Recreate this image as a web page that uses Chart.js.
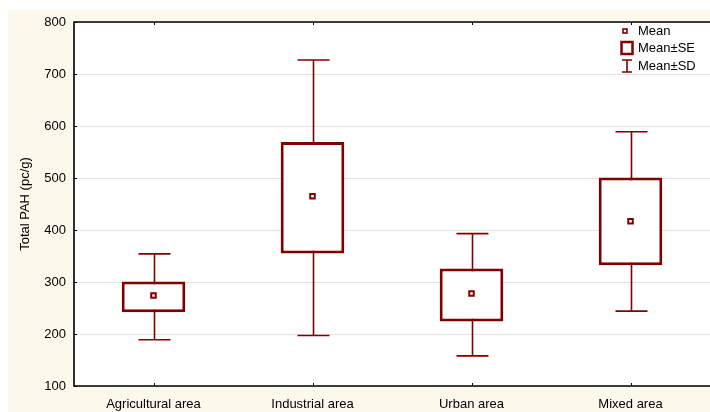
<!DOCTYPE html>
<html>
<head>
<meta charset="utf-8">
<script src="https://cdn.jsdelivr.net/npm/chart.js@4/dist/chart.umd.min.js"></script>
<style>
  html, body { margin: 0; padding: 0; background: #fff; }
  #wrap { position: absolute; left: 8px; top: 10px; width: 702px; height: 402px; background: #fdf8ec; overflow: hidden; }
  canvas { display: block; }
</style>
</head>
<body>
<div id="wrap"><canvas id="boxChart" width="708" height="402"></canvas></div>
<script>
const categories = ['Agricultural area', 'Industrial area', 'Urban area', 'Mixed area'];
const meanValues = [274, 465, 278, 417];
const seLow = [242, 355, 224, 332];
const seHigh = [301, 569, 326, 501];
const sdLow = [189, 197, 158, 244];
const sdHigh = [354, 727, 393, 589];

const dark = '#800000';
const font = 'Arial, "Liberation Sans", sans-serif';

// white plot area, whiskers behind boxes, frame + inward ticks, legend
const plotDecor = {
  id: 'plotDecor',
  beforeDatasetsDraw(chart) {
    const { ctx, scales: { x, y } } = chart;
    ctx.save();
    ctx.strokeStyle = dark;
    ctx.lineWidth = 1.6;
    categories.forEach((c, i) => {
      const px = Math.round(x.getPixelForValue(i)) + 0.5;
      const top = y.getPixelForValue(sdHigh[i]);
      const bot = y.getPixelForValue(sdLow[i]);
      ctx.beginPath();
      ctx.moveTo(px, top); ctx.lineTo(px, bot);
      ctx.moveTo(px - 16, top); ctx.lineTo(px + 16, top);
      ctx.moveTo(px - 16, bot); ctx.lineTo(px + 16, bot);
      ctx.stroke();
    });
    ctx.restore();
  },
  beforeDraw(chart) {
    const { ctx, chartArea: a } = chart;
    ctx.save();
    ctx.fillStyle = '#fff';
    ctx.fillRect(a.left, a.top, chart.width - a.left, a.bottom - a.top);
    ctx.restore();
  },
  afterDatasetsDraw(chart) {
    const { ctx, chartArea: a, scales: { x, y } } = chart;
    const right = chart.width;
    ctx.save();
    ctx.strokeStyle = '#000';
    ctx.lineWidth = 1.6;
    ctx.beginPath();
    ctx.moveTo(right, a.top); ctx.lineTo(a.left, a.top);
    ctx.lineTo(a.left, a.bottom); ctx.lineTo(right, a.bottom);
    ctx.stroke();
    ctx.lineWidth = 1;
    ctx.beginPath();
    for (let v = 100; v <= 800; v += 100) {
      const py = Math.round(y.getPixelForValue(v)) + 0.5;
      ctx.moveTo(a.left, py); ctx.lineTo(a.left + 3, py);
    }
    categories.forEach((c, i) => {
      const px = Math.round(x.getPixelForValue(i)) + 0.5;
      ctx.moveTo(px, a.top); ctx.lineTo(px, a.top + 3);
      ctx.moveTo(px, a.bottom); ctx.lineTo(px, a.bottom - 3);
    });
    ctx.stroke();

    // legend
    ctx.strokeStyle = dark;
    ctx.fillStyle = '#fff';
    ctx.lineWidth = 1.6;
    ctx.fillRect(615, 19, 4, 4);
    ctx.strokeRect(615, 19, 4, 4);
    ctx.lineWidth = 2.5;
    ctx.strokeRect(613.5, 32, 11, 12);
    ctx.lineWidth = 1.6;
    ctx.beginPath();
    ctx.moveTo(619, 50); ctx.lineTo(619, 62);
    ctx.moveTo(614, 50); ctx.lineTo(624, 50);
    ctx.moveTo(614, 62); ctx.lineTo(624, 62);
    ctx.stroke();
    ctx.fillStyle = '#000';
    ctx.font = '13px ' + font;
    ctx.textBaseline = 'middle';
    ctx.fillText('Mean', 630, 21);
    ctx.fillText('Mean±SE', 630, 38);
    ctx.fillText('Mean±SD', 630, 56);
    ctx.restore();
  }
};

new Chart(document.getElementById('boxChart').getContext('2d'), {
  type: 'bar',
  data: {
    labels: categories,
    datasets: [
      {
        label: 'Mean',
        type: 'line',
        data: meanValues,
        showLine: false,
        pointStyle: 'rect',
        pointRadius: 3.2,
        pointBackgroundColor: '#fff',
        pointBorderColor: dark,
        pointBorderWidth: 2,
        order: 0
      },
      {
        label: 'Mean±SE',
        data: seLow.map((lo, i) => [lo, seHigh[i]]),
        backgroundColor: '#fff',
        borderColor: dark,
        borderWidth: 3,
        borderSkipped: false,
        barPercentage: 0.4,
        categoryPercentage: 1,
        order: 1
      }
    ]
  },
  options: {
    responsive: false,
    animation: false,
    layout: { padding: { top: 12, right: 0, left: 0, bottom: 0 } },
    plugins: { legend: { display: false }, tooltip: { enabled: false } },
    scales: {
      x: {
        grid: { display: false },
        border: { display: false },
        ticks: { color: '#000', font: { family: font, size: 13 }, padding: 3 },
        afterFit(scale) {
          scale.height = 26;
          scale.paddingLeft = 0;
          scale.paddingRight = 0;
        }
      },
      y: {
        min: 100,
        max: 800,
        ticks: { stepSize: 100, color: '#000', font: { family: font, size: 13 }, padding: 8 },
        grid: { color: '#e2e2e2', lineWidth: 1, drawTicks: false },
        border: { display: false },
        title: {
          display: true,
          text: 'Total PAH (pc/g)',
          color: '#000',
          font: { family: font, size: 13 },
          padding: { top: 10, bottom: 0 }
        },
        afterFit(scale) {
          scale.width = 66;
          scale.paddingTop = 0;
          scale.paddingBottom = 0;
        }
      }
    }
  },
  plugins: [plotDecor]
});
</script>
</body>
</html>
